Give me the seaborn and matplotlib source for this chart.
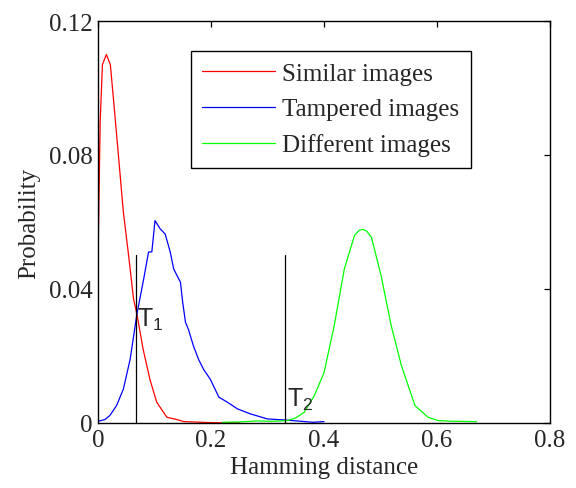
import numpy as np
import pandas as pd
import seaborn as sns
import matplotlib
matplotlib.use("Agg")
import matplotlib.pyplot as plt

# ---- data ----
similar_x = [0.0, 0.004, 0.008, 0.015, 0.022, 0.030, 0.045, 0.055, 0.063, 0.069, 0.080,
             0.092, 0.104, 0.122, 0.140, 0.152, 0.200, 0.250]
similar_y = [0.047, 0.090, 0.107, 0.110, 0.107, 0.092, 0.063, 0.049, 0.037, 0.0325, 0.022,
             0.013, 0.0062, 0.0017, 0.0010, 0.0004, 0.0001, 0.0]

tampered_x = [0.0, 0.012, 0.021, 0.033, 0.045, 0.057, 0.069, 0.081, 0.0895, 0.0954, 0.101,
              0.110, 0.119, 0.128, 0.134, 0.146, 0.150, 0.155, 0.160, 0.169, 0.178, 0.187,
              0.199, 0.214, 0.229, 0.247, 0.270, 0.300, 0.330, 0.360, 0.380, 0.400]
tampered_y = [0.0005, 0.0010, 0.0022, 0.0052, 0.0101, 0.019, 0.0325, 0.043, 0.051, 0.0511, 0.0604,
              0.058, 0.0564, 0.051, 0.046, 0.042, 0.036, 0.030, 0.028, 0.023, 0.019, 0.016,
              0.013, 0.0077, 0.0062, 0.0042, 0.0027, 0.0012, 0.0009, 0.0005, 0.0002, 0.0004]

different_x = [0.220, 0.250, 0.280, 0.310, 0.335, 0.350, 0.365, 0.383, 0.400, 0.418, 0.436,
               0.454, 0.462, 0.469, 0.476, 0.484, 0.501, 0.519, 0.537, 0.561, 0.584, 0.602,
               0.630, 0.670]
different_y = [0.0002, 0.0003, 0.0006, 0.0005, 0.0007, 0.0015, 0.0032, 0.0082, 0.015, 0.029, 0.046,
               0.056, 0.0575, 0.0578, 0.0572, 0.0554, 0.044, 0.029, 0.0171, 0.0052, 0.0017, 0.0007,
               0.0005, 0.0004]

series_names = ["Similar images", "Tampered images", "Different images"]
series_colors = ["#FF0000", "#0000FF", "#00FF00"]

thresholds_x = [0.0674, 0.3317]
threshold_top = 0.05
threshold_labels = [r"$\mathregular{T_1}$", r"$\mathregular{T_2}$"]
threshold_label_pos = [(0.069, 0.029), (0.334, 0.005)]

x_ticks = [0.0, 0.2, 0.4, 0.6, 0.8]
x_ticklabels = ["0", "0.2", "0.4", "0.6", "0.8"]
y_ticks = [0.0, 0.04, 0.08, 0.12]
y_ticklabels = ["0", "0.04", "0.08", "0.12"]

# ---- style ----
sns.set_style("white")
plt.rcParams["font.family"] = ["Liberation Serif", "DejaVu Serif"]
plt.rcParams["xtick.direction"] = "in"
plt.rcParams["ytick.direction"] = "in"

fig = plt.figure(figsize=(5.76, 4.89), dpi=100)
ax = fig.add_axes([0.170, 0.133, 0.785, 0.822])

frames = [
    pd.DataFrame({"x": similar_x, "y": similar_y, "series": series_names[0]}),
    pd.DataFrame({"x": tampered_x, "y": tampered_y, "series": series_names[1]}),
    pd.DataFrame({"x": different_x, "y": different_y, "series": series_names[2]}),
]
df = pd.concat(frames, ignore_index=True)

sns.lineplot(data=df, x="x", y="y", hue="series", hue_order=series_names,
             palette=series_colors, linewidth=0.9, ax=ax, sort=False, estimator=None)

for tx in thresholds_x:
    ax.plot([tx, tx], [0, threshold_top], color="black", linewidth=0.9)
for lab, (lx, ly) in zip(threshold_labels, threshold_label_pos):
    ax.text(lx, ly, lab, family="Liberation Sans", fontsize=18, va="baseline", ha="left")

ax.set_xlim(0, 0.8)
ax.set_ylim(0, 0.12)
ax.set_xticks(x_ticks)
ax.set_xticklabels(x_ticklabels)
ax.set_yticks(y_ticks)
ax.set_yticklabels(y_ticklabels)
ax.tick_params(axis="both", which="both", labelsize=18, length=4, width=0.9,
               top=True, right=True, color="black", pad=4)
for sp in ax.spines.values():
    sp.set_visible(True)
    sp.set_color("black")
    sp.set_linewidth(1.0)

ax.set_xlabel("Hamming distance", fontsize=18, labelpad=4)
ax.set_ylabel("Probability", fontsize=18, labelpad=6)

leg = ax.legend(loc="upper left", bbox_to_anchor=(0.206, 0.925), fontsize=18,
                frameon=True, fancybox=False, edgecolor="black", framealpha=1,
                handlelength=2.9, handletextpad=0.3, labelspacing=0.52,
                borderpad=0.45, borderaxespad=0)
leg.get_frame().set_linewidth(1.0)
for h in leg.get_lines():
    h.set_linewidth(0.9)

fig.savefig("out.png", dpi=100)
